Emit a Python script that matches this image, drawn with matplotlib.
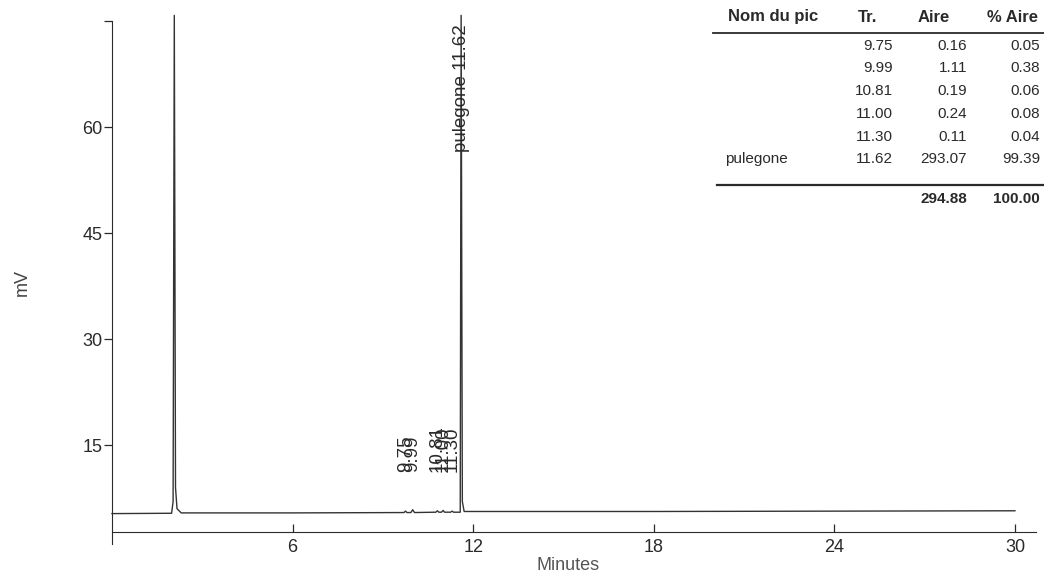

# -*- coding: utf-8 -*-
"""
Chromatogram of the pulegone sample with its peak table
"""

import matplotlib
matplotlib.use('Agg')
import matplotlib.pyplot as plt

# Peak table values (as printed on the report)
peak_names = ['', '', '', '', '', 'pulegone']
ret_times = [9.75, 9.99, 10.81, 11.00, 11.30, 11.62]
areas = [0.16, 1.11, 0.19, 0.24, 0.11, 293.07]
pct_areas = [0.05, 0.38, 0.06, 0.08, 0.04, 99.39]
total_area = 294.88
total_pct = 100.00
table_headers = ['Nom du pic', 'Tr.', 'Aire', '% Aire']

# Detector trace (minutes, mV)
trace_t = [0.0, 1.98, 2.03, 2.07, 2.11, 2.16, 2.30, 6.0,
           9.70, 9.75, 9.80, 9.93, 9.99, 10.05,
           10.76, 10.81, 10.86, 10.95, 11.00, 11.05,
           11.25, 11.30, 11.35, 11.57, 11.60, 11.64, 11.70,
           18.0, 24.0, 30.0]
trace_mv = [5.30, 5.35, 7.0, 75.8, 9.0, 6.0, 5.40, 5.40,
            5.45, 5.65, 5.45, 5.45, 5.85, 5.45,
            5.50, 5.70, 5.50, 5.50, 5.75, 5.50,
            5.50, 5.65, 5.50, 5.50, 75.8, 7.0, 5.60,
            5.60, 5.65, 5.70]

x_ticks = [6, 12, 18, 24, 30]
y_ticks = [15, 30, 45, 60, 75]
y_tick_labels = ['15', '30', '45', '60', '']

plt.rcParams['font.family'] = ['Liberation Sans', 'DejaVu Sans']
ink = '#2a2a2a'

W, H = 1044, 576
fig = plt.figure(figsize=(W / 100, H / 100), dpi=100)
ax = fig.add_axes([112 / W, 1 - 544 / H, 924 / W, 523 / H])

ax.plot(trace_t, trace_mv, color='#333333', lw=1.0, clip_on=False)

ax.set_xlim(0, 30.7)
ax.set_ylim(1.0, 75)

# spines like the integrator print-out
for side in ['top', 'right']:
    ax.spines[side].set_visible(False)
ax.spines['left'].set_color(ink)
ax.spines['bottom'].set_color(ink)
ax.spines['bottom'].set_position(('data', 2.7))

ax.set_xticks(x_ticks)
ax.set_yticks(y_ticks)
ax.set_yticklabels(y_tick_labels)
ax.tick_params(axis='x', direction='in', length=6, width=0.9, pad=5,
               labelsize=13, colors=ink)
ax.tick_params(axis='y', direction='out', length=6, width=0.9, pad=1,
               labelsize=13, colors=ink)

ax.set_ylabel('mV', fontsize=13, color='#444444', labelpad=0)
ax.yaxis.set_label_coords(-0.088, 0.5)
fig.text(568 / W, 1 - 566 / H, 'Minutes', fontsize=13, color='#555555',
         ha='center', va='center')

# retention-time labels above each peak
for name, rt in zip(peak_names, ret_times):
    label = f'{name} {rt:.2f}' if name else f'{rt:.2f}'
    ypos = 56.5 if name else 11.2
    ax.text(rt, ypos, label, rotation=90, ha='center', va='bottom',
            fontsize=13.5, color=ink)

# peak table in the top right corner
def fx(px):
    return px / W

def fy(py):
    return 1 - py / H

head_y = 17
fig.text(fx(728), fy(head_y), table_headers[0], fontsize=12, fontweight='bold',
         ha='left', va='center', color=ink)
fig.text(fx(868), fy(head_y), table_headers[1], fontsize=12, fontweight='bold',
         ha='center', va='center', color=ink)
fig.text(fx(934), fy(head_y), table_headers[2], fontsize=12, fontweight='bold',
         ha='center', va='center', color=ink)
fig.text(fx(1038), fy(head_y), table_headers[3], fontsize=12, fontweight='bold',
         ha='right', va='center', color=ink)
fig.add_artist(plt.Line2D([fx(713), fx(1044)], [fy(33), fy(33)],
                          color=ink, lw=1.3))

row_y = [46, 68, 91, 114, 137, 159]
for i in range(len(ret_times)):
    y = fy(row_y[i])
    if peak_names[i]:
        fig.text(fx(725), y, peak_names[i], fontsize=11, ha='left',
                 va='center', color=ink)
    fig.text(fx(893), y, f'{ret_times[i]:.2f}', fontsize=11, ha='right',
             va='center', color=ink)
    fig.text(fx(967), y, f'{areas[i]:.2f}', fontsize=11, ha='right',
             va='center', color=ink)
    fig.text(fx(1040), y, f'{pct_areas[i]:.2f}', fontsize=11, ha='right',
             va='center', color=ink)

fig.add_artist(plt.Line2D([fx(717), fx(1044)], [fy(185), fy(185)],
                          color=ink, lw=1.6))
fig.text(fx(967), fy(199), f'{total_area:.2f}', fontsize=11, fontweight='bold',
         ha='right', va='center', color=ink)
fig.text(fx(1040), fy(199), f'{total_pct:.2f}', fontsize=11, fontweight='bold',
         ha='right', va='center', color=ink)

fig.savefig('out.png', dpi=100, facecolor='white')
